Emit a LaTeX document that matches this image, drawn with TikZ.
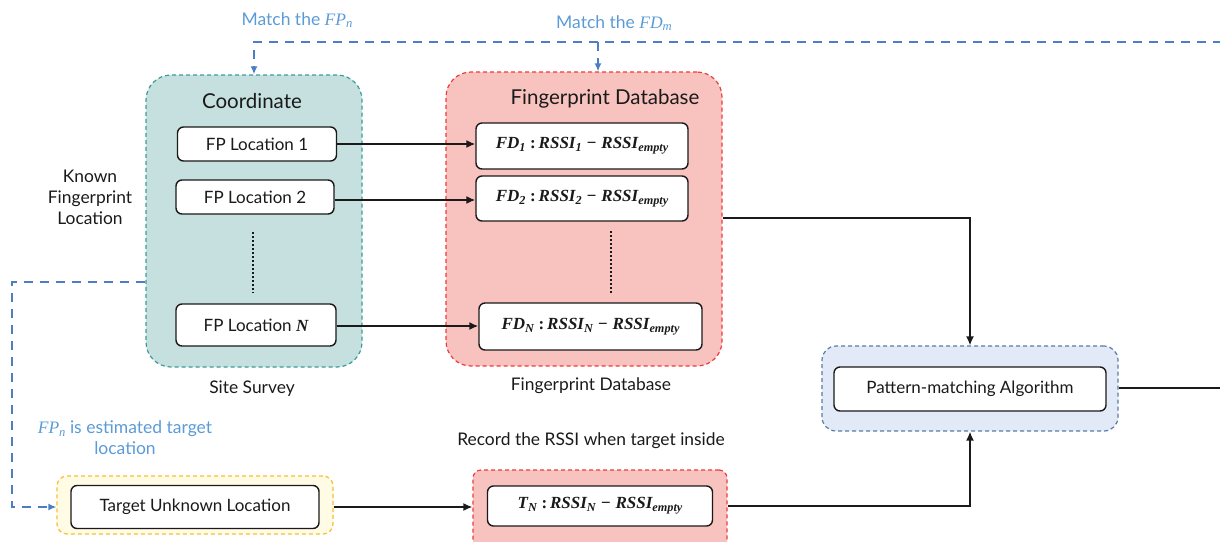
\documentclass[tikz,border=0pt]{standalone}
\usepackage[no-math]{fontspec}
\setmainfont{Lato}
\newfontfamily\mfont{Liberation Serif}
\newcommand{\msub}[1]{\raisebox{-0.35ex}{\scalebox{0.72}{#1}}}
\newcommand{\mexpr}[3]{{\mfont\bfseries\itshape #1\msub{#2}\;{\upshape:}\,RSSI\msub{#3}\;−\;RSSI\msub{empty}}}
\usetikzlibrary{arrows.meta}
\definecolor{tealfill}{HTML}{C5E0DE}
\definecolor{tealline}{HTML}{3A9C98}
\definecolor{redfill}{HTML}{F8C2BF}
\definecolor{redline}{HTML}{EE3B3B}
\definecolor{yelfill}{HTML}{FFFBE5}
\definecolor{yelline}{HTML}{F5C035}
\definecolor{bluefill}{HTML}{E1EAF6}
\definecolor{blueline}{HTML}{5A7BA8}
\definecolor{linkblue}{HTML}{5B9BD5}
\definecolor{dashblue}{HTML}{4D7EC4}
\definecolor{ink}{HTML}{1A1A1A}
\tikzset{
  grp/.style={draw, dashed, line width=1.2pt, dash pattern=on 4pt off 3pt, inner sep=0pt},
  item/.style={draw=ink, rounded corners=6pt, fill=white, line width=1.4pt, inner sep=0pt,
    font=\fontsize{17}{20}\selectfont, text=ink},
  mitem/.style={item, font=\fontsize{17}{20}\selectfont},
  lbl/.style={font=\fontsize{17.4}{21}\selectfont, text=ink, inner sep=0pt},
  ttl/.style={font=\fontsize{20.5}{24}\selectfont, text=ink, inner sep=0pt},
  blbl/.style={font=\fontsize{17.5}{21}\selectfont, text=linkblue, inner sep=0pt},
  arr/.style={-{Latex[length=9pt,width=8pt]}, line width=1.6pt, draw=ink},
  plain/.style={line width=1.6pt, draw=ink},
  bdash/.style={draw=dashblue, line width=1.6pt, dash pattern=on 9pt off 7pt},
  btip/.style={-{Latex[length=8pt,width=7pt]}},
  dotline/.style={draw=ink, line width=1.6pt, dash pattern=on 1.6pt off 2.4pt}
}
\begin{document}
\begin{tikzpicture}[x=1pt,y=-1pt]
\useasboundingbox (0,0) rectangle (1220,541);
% group boxes
\node[grp, draw=tealline, fill=tealfill, rounded corners=25pt, minimum width=216pt, minimum height=292pt] (tealgrp) at (254,221) {};
\node[grp, draw=redline, fill=redfill, rounded corners=25pt, minimum width=276pt, minimum height=294pt] (redgrp) at (584,219) {};
\node[grp, draw=yelline, fill=yelfill, rounded corners=10pt, minimum width=276pt, minimum height=58pt] (yelgrp) at (195,505) {};
\node[grp, draw=redline, fill=redfill, rounded corners=8pt, minimum width=254pt, minimum height=84pt] (redbot) at (600,512) {};
\node[grp, draw=blueline, fill=bluefill, rounded corners=14pt, minimum width=296pt, minimum height=85pt] (bluegrp) at (970,388.5) {};
% titles
\node[ttl] (coordttl) at (252,101) {Coordinate};
\node[ttl] (fdbttl) at (605,99) {Fingerprint Database};
% items
\node[item, minimum width=159pt, minimum height=34pt] (fp1) at (257,144) {FP Location 1};
\node[item, minimum width=158pt, minimum height=34pt] (fp2) at (255,197) {FP Location 2};
\node[item, minimum width=160pt, minimum height=42pt] (fpN) at (256,325) {FP Location {\mfont\bfseries\itshape N}};
\node[mitem, minimum width=212pt, minimum height=46pt] (fd1) at (582,146) {\mexpr{FD}{1}{1}};
\node[mitem, minimum width=212pt, minimum height=45pt] (fd2) at (582,198.5) {\mexpr{FD}{2}{2}};
\node[mitem, minimum width=223pt, minimum height=47pt] (fdN) at (590.5,326.5) {\mexpr{FD}{N}{N}};
\node[item, minimum width=248pt, minimum height=43pt] (target) at (195,507) {Target Unknown Location};
\node[mitem, minimum width=225pt, minimum height=40pt] (tn) at (600,506) {\mexpr{T}{N}{N}};
\node[item, minimum width=272pt, minimum height=44pt] (pma) at (970,389) {Pattern-matching Algorithm};
% dots
\draw[dotline] (253,232) -- (253,293);
\draw[dotline] (611,231) -- (611,293);
% plain labels
\node[lbl, align=center] (known) at (90,197) {Known\\Fingerprint\\Location};
\node[lbl] (sitesurvey) at (252,389) {Site Survey};
\node[lbl] (fdblbl) at (591,386) {Fingerprint Database};
\node[lbl] (record) at (591,441) {Record the RSSI when target inside};
\node[blbl] (matchfp) at (297,20) {Match the {\mfont\itshape FP\msub{n}}};
\node[blbl] (matchfd) at (614,23) {Match the {\mfont\itshape FD\msub{m}}};
\node[blbl, align=center] (estimated) at (125,438) {{\mfont\itshape FP\msub{n}} is estimated target\\location};
% black connectors
\draw[arr] (fp1.east) -- (fp1.east -| fd1.west);
\draw[arr] (fp2.east |- 0,200) -- (fd2.west |- 0,200);
\draw[arr] (fpN.east |- 0,326) -- (fdN.west |- 0,326);
\draw[arr] (yelgrp.east |- target) -- (target -| redbot.west);
\draw[arr] (redgrp.east |- 0,218) -| (bluegrp.north);
\draw[arr] (redbot.east |- tn) -| (bluegrp.south);
\coordinate (exitR) at (1220,388);
\draw[plain] (bluegrp.east |- exitR) -- (exitR);
% blue dashed connectors
\coordinate (leftC) at (12,282);
\coordinate (topR) at (1222,42);
\draw[bdash, btip] (tealgrp.west |- leftC) -- (leftC) |- (target -| yelgrp.west);
\draw[bdash, btip] (topR) -| (tealgrp.north);
\draw[bdash, btip] ([xshift=14pt]redgrp.north |- topR) -- ([xshift=14pt]redgrp.north);
\end{tikzpicture}
\end{document}
